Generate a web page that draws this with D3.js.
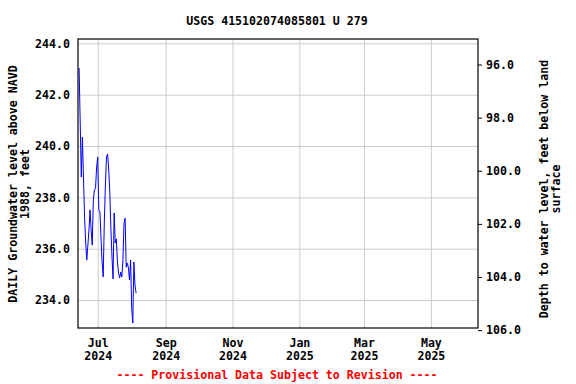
<!DOCTYPE html>
<html>
<head>
<meta charset="utf-8">
<script src="https://cdn.jsdelivr.net/npm/d3@7"></script>
<style>
  body { margin: 0; background: #fff; }
  svg text { font-family: "DejaVu Sans Mono", monospace; font-weight: bold; font-size: 11.6px; fill: #000; }
</style>
</head>
<body>
<svg id="canvas" width="576" height="384"></svg>
<script>
// Daily groundwater level (feet above NAVD 1988), starting 2024-06-14
let startDate = new Date(2024, 5, 14);
let levels = [
    243.04, 240.93, 238.79, 240.35, 238.79, 237.23, 236.26, 235.56, 236.14, 236.73,
    237.51, 236.73, 236.14, 237.90, 238.29, 238.36, 239.18, 239.57, 237.51, 237.43,
    236.42, 235.44, 234.90, 237.04, 238.48, 239.57, 239.69, 239.14, 238.21, 236.80,
    235.68, 234.82, 237.39, 236.22, 236.38, 235.48, 235.05, 234.86, 235.09, 234.90,
    235.56, 237.00, 237.19, 235.28, 235.44, 235.25, 234.78, 235.56, 233.69, 233.10,
    235.48, 234.58, 234.27
];

// tick values
let leftTicks = [234, 236, 238, 240, 242, 244];
let rightTicks = [96, 98, 100, 102, 104, 106];
let monthTicks = [
    new Date(2024, 6, 1), new Date(2024, 8, 1), new Date(2024, 10, 1),
    new Date(2025, 0, 1), new Date(2025, 2, 1), new Date(2025, 4, 1)
];

let titleText = "USGS 415102074085801 U 279";
let leftTitle = ["DAILY Groundwater level above NAVD", "1988, feet"];
let rightTitle = ["Depth to water level, feet below land", "surface"];
let footText = "---- Provisional Data Subject to Revision ----";

let canvas = d3.select('#canvas');

// plot box
let plotLeft = 78, plotRight = 478, plotTop = 39, plotBottom = 328;

let xScale = d3.scaleTime()
    .domain([new Date(2024, 5, 13), new Date(2025, 5, 13)])
    .range([plotLeft, plotRight]);
let yScale = d3.scaleLinear().domain([232.91, 244.17]).range([plotBottom, plotTop]);
let depthScale = d3.scaleLinear().domain([95.04, 105.92]).range([plotTop, plotBottom]);

// grid lines
canvas.append("g")
    .attr("transform", `translate(${plotLeft},0)`)
    .call(d3.axisLeft(yScale).tickValues(leftTicks).tickSize(-(plotRight - plotLeft)).tickFormat(""))
    .call(g => g.select(".domain").remove())
    .call(g => g.selectAll("line").attr("stroke", "#cccccc"));

canvas.append("g")
    .attr("transform", `translate(0,${plotBottom})`)
    .call(d3.axisBottom(xScale).tickValues(monthTicks).tickSize(-(plotBottom - plotTop)).tickFormat(""))
    .call(g => g.select(".domain").remove())
    .call(g => g.selectAll("line").attr("stroke", "#cccccc"));

// the water level line
let series = levels.map((v, i) => ({ date: d3.timeDay.offset(startDate, i), value: v }));

canvas.append("path")
    .datum(series)
    .attr("fill", "none")
    .attr("stroke", "#0000ff")
    .attr("stroke-width", 1)
    .attr("d", d3.line().x(d => xScale(d.date)).y(d => yScale(d.value)));

// frame
canvas.append("rect")
    .attr("x", plotLeft).attr("y", plotTop)
    .attr("width", plotRight - plotLeft).attr("height", plotBottom - plotTop)
    .attr("fill", "none").attr("stroke", "#000").attr("stroke-width", 1.2);

// left axis labels
canvas.append("g")
    .attr("transform", `translate(${plotLeft},0)`)
    .call(d3.axisLeft(yScale).tickValues(leftTicks).tickSize(0).tickPadding(8).tickFormat(d3.format(".1f")))
    .call(g => g.select(".domain").remove())
    .call(g => g.selectAll("text").attr("font-family", null).attr("font-size", null));

// right axis
canvas.append("g")
    .attr("transform", `translate(${plotRight},0)`)
    .call(d3.axisRight(depthScale).tickValues(rightTicks).tickSize(4).tickPadding(4).tickFormat(d3.format(".1f")))
    .call(g => g.select(".domain").remove())
    .call(g => g.selectAll("text").attr("font-family", null).attr("font-size", null));

// bottom axis, two line labels
let bottomAxis = canvas.append("g")
    .attr("transform", `translate(0,${plotBottom})`)
    .call(d3.axisBottom(xScale).tickValues(monthTicks).tickSize(0).tickFormat(""))
    .call(g => g.select(".domain").remove());

bottomAxis.selectAll(".tick text")
    .attr("font-family", null).attr("font-size", null)
    .attr("dy", null).attr("y", 0)
    .each(function (d) {
        let t = d3.select(this);
        t.append("tspan").attr("x", 0).attr("y", 18.5).text(d3.timeFormat("%b")(d));
        t.append("tspan").attr("x", 0).attr("y", 32).text(d3.timeFormat("%Y")(d));
    });

// titles
canvas.append("text")
    .attr("x", 277).attr("y", 25)
    .attr("text-anchor", "middle")
    .text(titleText);

canvas.append("text")
    .attr("transform", "translate(17,184) rotate(-90)")
    .attr("text-anchor", "middle")
    .selectAll("tspan")
    .data(leftTitle)
    .enter()
    .append("tspan")
    .attr("x", 0).attr("dy", (d, i) => i === 0 ? 0 : 12)
    .text(d => d);

canvas.append("text")
    .attr("transform", "translate(548,189) rotate(-90)")
    .attr("text-anchor", "middle")
    .selectAll("tspan")
    .data(rightTitle)
    .enter()
    .append("tspan")
    .attr("x", 0).attr("dy", (d, i) => i === 0 ? 0 : 12)
    .text(d => d);

canvas.append("text")
    .attr("x", 277).attr("y", 379)
    .attr("text-anchor", "middle")
    .style("fill", "#ff0000")
    .text(footText);
</script>
</body>
</html>
